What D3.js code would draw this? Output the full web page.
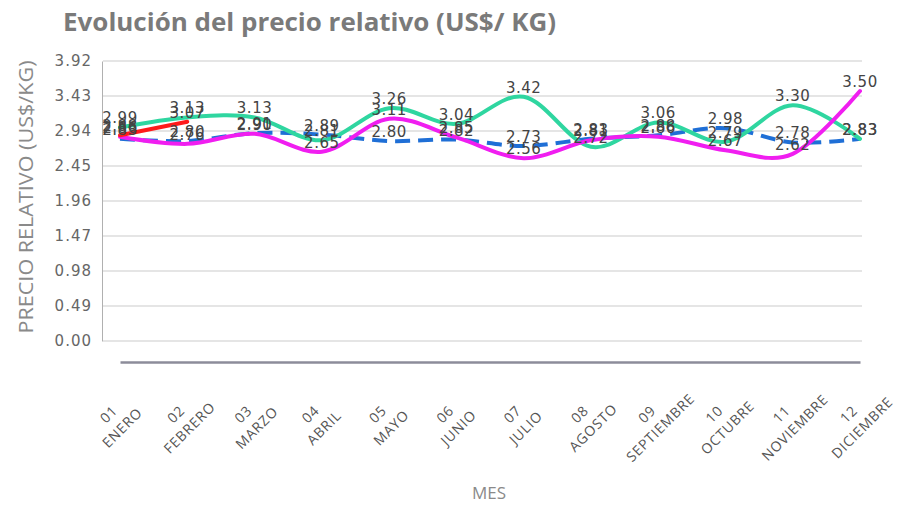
<!DOCTYPE html>
<html>
<head>
<meta charset="utf-8">
<script src="https://cdn.jsdelivr.net/npm/d3@7"></script>
<style>
  body { margin: 0; background: #fff; }
  #chart text { font-family: "Open Sans", sans-serif; }
</style>
</head>
<body>
<div id="chart"></div>
<script>

var width = 897, height = 505

var meses = ['01 ENERO', '02 FEBRERO', '03 MARZO', '04 ABRIL', '05 MAYO', '06 JUNIO',
    '07 JULIO', '08 AGOSTO', '09 SEPTIEMBRE', '10 OCTUBRE', '11 NOVIEMBRE', '12 DICIEMBRE']

var yTicks = [0, 0.49, 0.98, 1.47, 1.96, 2.45, 2.94, 3.43, 3.92]

// series, drawn bottom to top
var serieAzul = [2.83, 2.80, 2.91, 2.89, 2.80, 2.82, 2.73, 2.83, 2.88, 2.98, 2.78, 2.83]
var serieVerde = [2.99, 3.13, 3.13, 2.81, 3.26, 3.04, 3.42, 2.72, 3.06, 2.79, 3.30, 2.83]
var serieMagenta = [2.86, 2.76, 2.90, 2.65, 3.11, 2.85, 2.56, 2.81, 2.86, 2.67, 2.62, 3.50]
var serieRoja = [2.88, 3.07, null, null, null, null, null, null, null, null, null, null]

var series = [
    { values: serieAzul, color: '#1f6fd6', dash: '15,8' },
    { values: serieVerde, color: '#2fd6a0', dash: null },
    { values: serieMagenta, color: '#f01ef0', dash: null },
    { values: serieRoja, color: '#ff1a1a', dash: null }
]

var svg = d3.select('#chart')
    .append('svg')
    .attr('width', width)
    .attr('height', height)

var x = d3.scalePoint()
    .domain(meses)
    .range([120, 860])

var y = d3.scaleLinear()
    .domain([0, 3.92])
    .range([341, 61])

// title
svg.append('text')
    .attr('x', 63)
    .attr('y', 31)
    .attr('font-size', 25)
    .attr('font-weight', 700)
    .attr('fill', '#7a7a7a')
    .attr('textLength', 493)
    .attr('lengthAdjust', 'spacingAndGlyphs')
    .text('Evolución del precio relativo (US$/ KG)')

// grid
svg.append('g')
    .selectAll('line')
    .data(yTicks)
    .enter()
    .append('line')
    .attr('x1', 103)
    .attr('x2', 862)
    .attr('y1', function(d) { return y(d) })
    .attr('y2', function(d) { return y(d) })
    .attr('stroke', '#dcdcdc')
    .attr('stroke-width', 1.5)

// y axis
var yAxis = svg.append('g')
    .attr('transform', 'translate(102,0)')
    .call(d3.axisLeft(y).tickValues(yTicks).tickFormat(d3.format('.2f')).tickSize(0).tickPadding(10))

yAxis.select('.domain').attr('stroke', '#b0b0b0')
yAxis.selectAll('text')
    .style('font-family', '"DejaVu Sans", sans-serif')
    .attr('font-size', 15)
    .attr('letter-spacing', 1)
    .attr('fill', '#666')

svg.append('text')
    .attr('transform', 'translate(33,197) rotate(-90)')
    .attr('text-anchor', 'middle')
    .attr('font-size', 20)
    .attr('fill', '#8a8a8a')
    .attr('textLength', 273)
    .attr('lengthAdjust', 'spacingAndGlyphs')
    .text('PRECIO RELATIVO (US$/KG)')

// x axis
var xAxis = svg.append('g')
    .attr('transform', 'translate(0,362)')
    .call(d3.axisBottom(x).tickSize(0).tickSizeOuter(0))

xAxis.select('.domain')
    .attr('stroke', '#8c8c9a')
    .attr('stroke-width', 2.5)

xAxis.selectAll('.tick text').remove()

var tickLab = xAxis.selectAll('.tick')
    .append('g')
    .attr('transform', 'translate(-5,59) rotate(-45)')

tickLab.append('text')
    .attr('text-anchor', 'middle')
    .attr('y', -9.5)
    .attr('dy', '0.35em')
    .attr('font-size', 14)
    .attr('letter-spacing', 0.8)
    .attr('fill', '#555')
    .text(function(d) { return d.split(' ')[0] })

tickLab.append('text')
    .attr('text-anchor', 'middle')
    .attr('y', 9.5)
    .attr('dy', '0.35em')
    .attr('font-size', 14)
    .attr('letter-spacing', 0.8)
    .attr('fill', '#555')
    .text(function(d) { return d.split(' ')[1] })

svg.append('text')
    .attr('x', 489)
    .attr('y', 499)
    .attr('text-anchor', 'middle')
    .attr('font-size', 17)
    .attr('fill', '#8a8a8a')
    .text('MES')

// lines
var line = d3.line()
    .defined(function(d) { return d != null })
    .x(function(d, i) { return x(meses[i]) })
    .y(function(d) { return y(d) })
    .curve(d3.curveCardinal.tension(0))

svg.append('g')
    .selectAll('path')
    .data(series)
    .enter()
    .append('path')
    .attr('d', function(s) { return line(s.values) })
    .attr('fill', 'none')
    .attr('stroke', function(s) { return s.color })
    .attr('stroke-width', 4)
    .attr('stroke-dasharray', function(s) { return s.dash })
    .attr('stroke-linecap', function(s) { return s.dash ? 'butt' : 'round' })

// value labels
var labels = []
series.forEach(function(s) {
    s.values.forEach(function(v, i) {
        if (v != null) labels.push({ mes: meses[i], v: v })
    })
})

svg.append('g')
    .selectAll('text')
    .data(labels)
    .enter()
    .append('text')
    .attr('x', function(d) { return x(d.mes) })
    .attr('y', function(d) { return y(d.v) - 4 })
    .attr('text-anchor', 'middle')
    .style('font-family', '"DejaVu Sans", sans-serif')
    .attr('font-size', 15)
    .attr('letter-spacing', 0.5)
    .attr('fill', '#444')
    .text(function(d) { return d3.format('.2f')(d.v) })

</script>
</body>
</html>
